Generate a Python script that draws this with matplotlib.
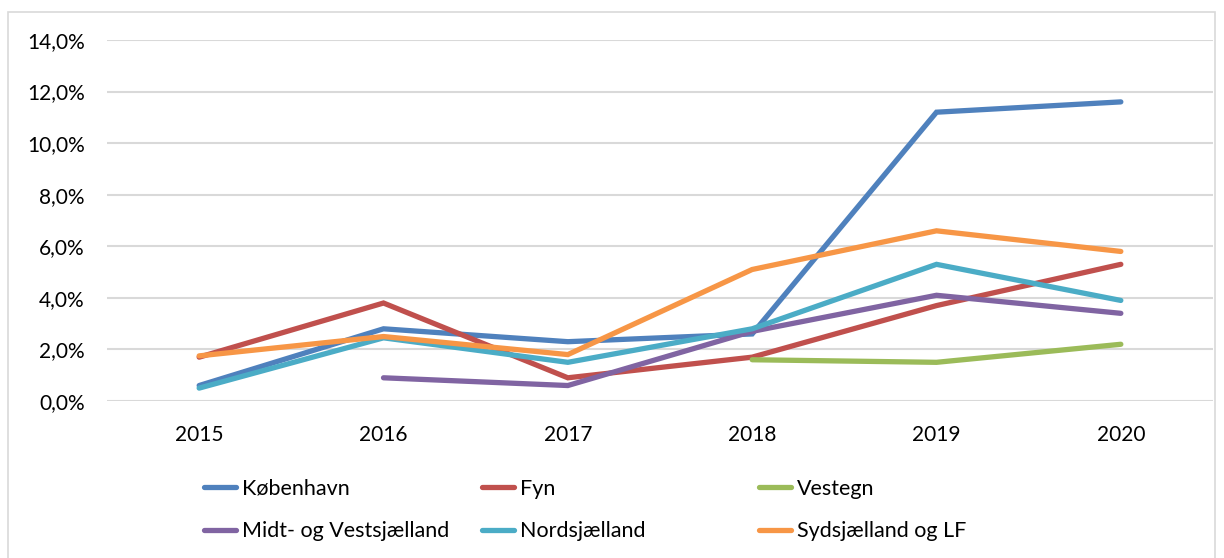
import numpy as np
import matplotlib.pyplot as plt
from matplotlib.lines import Line2D
from matplotlib.patches import Rectangle
from matplotlib.ticker import FuncFormatter

plt.rcParams['font.family'] = ['Lato', 'DejaVu Sans']

years = [2015, 2016, 2017, 2018, 2019, 2020]
nan = np.nan
koebenhavn = [0.6, 2.8, 2.3, 2.6, 11.2, 11.6]
fyn = [1.7, 3.8, 0.9, 1.7, 3.7, 5.3]
vestegn = [nan, nan, nan, 1.6, 1.5, 2.2]
midt_vest = [nan, 0.9, 0.6, 2.7, 4.1, 3.4]
nordsj = [0.5, 2.45, 1.5, 2.8, 5.3, 3.9]
sydsj = [1.75, 2.5, 1.8, 5.1, 6.6, 5.8]

series = [
    ('København', koebenhavn, '#4F81BD'),
    ('Fyn', fyn, '#C0504D'),
    ('Vestegn', vestegn, '#9BBB59'),
    ('Midt- og Vestsjælland', midt_vest, '#8064A2'),
    ('Nordsjælland', nordsj, '#4BACC6'),
    ('Sydsjælland og LF', sydsj, '#F79646'),
]

fig = plt.figure(figsize=(12.24, 5.58), dpi=100)
ax = fig.add_axes([107 / 1224, 1 - 401 / 558, (1213 - 107) / 1224, (401 - 40) / 558])

handles = {}
for name, vals, col in series:
    ln, = ax.plot(years, vals, color=col, lw=3.8, solid_capstyle='round', solid_joinstyle='miter')
    handles[name] = ln

ax.set_xlim(2014.5, 2020.5)
ax.set_ylim(0, 14)
ax.set_xticks(years)
ax.set_yticks(np.arange(0, 15, 2))
ax.yaxis.set_major_formatter(FuncFormatter(lambda v, p: '{:.1f}%'.format(v).replace('.', ',')))
ax.tick_params(length=0, labelsize=15, colors='black')
ax.tick_params(axis='y', pad=16)
ax.tick_params(axis='x', pad=17)
ax.grid(axis='y', color='#d9d9d9', lw=1.5)
ax.set_axisbelow(True)
for s in ax.spines.values():
    s.set_visible(False)

# legend in three evenly spaced columns
cols = [
    ['København', 'Midt- og Vestsjælland'],
    ['Fyn', 'Nordsjælland'],
    ['Vestegn', 'Sydsjælland og LF'],
]
xpos = [195, 473, 750]
for names, x in zip(cols, xpos):
    hs = [Line2D([], [], color=handles[n].get_color(), lw=3.8, solid_capstyle='round') for n in names]
    leg = fig.legend(hs, names, loc='upper left', bbox_to_anchor=(x / 1224, 1 - 470 / 558),
                     frameon=False, fontsize=15.5, handlelength=1.5, handletextpad=0.3,
                     labelspacing=1.05, borderaxespad=0)

fig.patches.append(Rectangle((8 / 1224, -0.01), (1215 - 8) / 1224, 1 - 12 / 558 + 0.01,
                             transform=fig.transFigure, fill=False, ec='#d9d9d9', lw=1.2))

fig.savefig('out.png', dpi=100)
